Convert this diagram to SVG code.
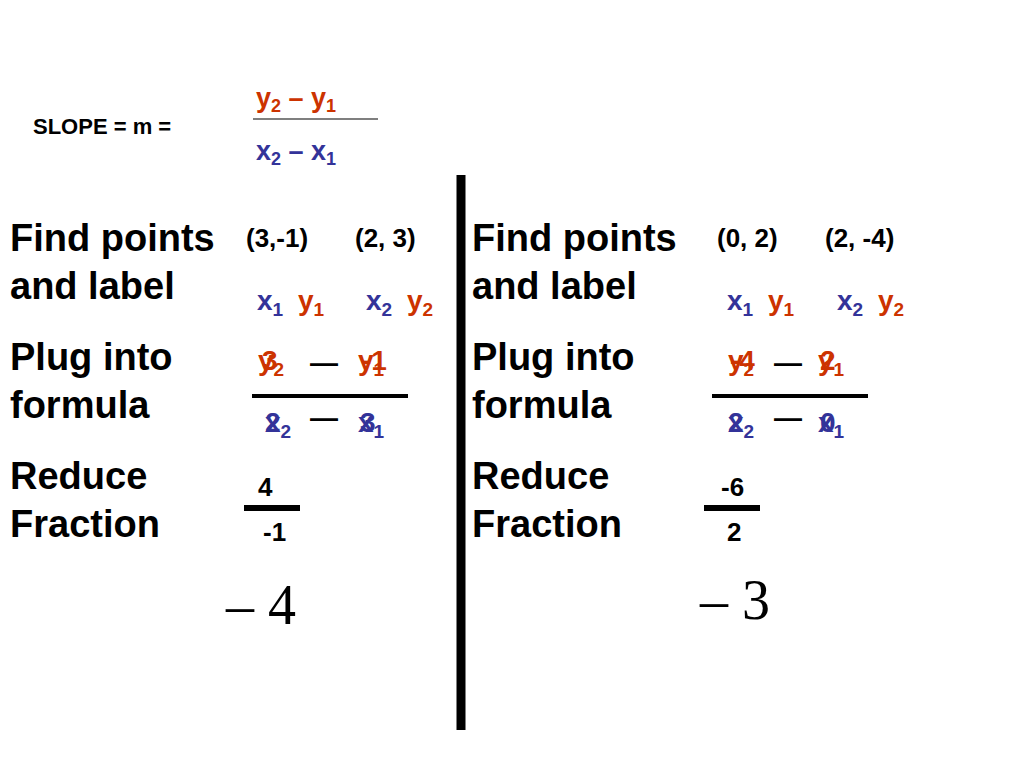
<svg xmlns="http://www.w3.org/2000/svg" width="1024" height="768" viewBox="0 0 1024 768">
<style>
text{font-family:"Liberation Sans",Arial,sans-serif;font-weight:bold}
.big{font-size:38px;fill:#000}
.m{font-size:28px}
.p{font-size:26px}
.r{fill:#cc3300}
.b{fill:#333399}
.k{fill:#000}
.s{font-size:19px}
.f{font-size:26px}
.t{font-family:"Liberation Serif","Times New Roman",serif;font-weight:normal;font-size:56px;fill:#000}
</style>
<rect width="1024" height="768" fill="#fff"/>
<g id="header">
<text x="33" y="134" font-size="22" class="k">SLOPE = m =</text>
<text x="256" y="107" font-size="27" class="r">y<tspan font-size="18" dy="5">2</tspan><tspan dy="-5"> – y</tspan><tspan font-size="18" dy="5">1</tspan></text>
<line x1="253" y1="119" x2="378" y2="119" stroke="#000" stroke-width="1.2"/>
<text x="256" y="160" font-size="27" class="b">x<tspan font-size="18" dy="5">2</tspan><tspan dy="-5"> – x</tspan><tspan font-size="18" dy="5">1</tspan></text>
</g>
<g id="divider"><line x1="461" y1="175" x2="461" y2="730" stroke="#000" stroke-width="9"/></g>
<g id="left">
<text x="10" y="251" class="big">Find points</text>
<text x="10" y="299" class="big">and label</text>
<text x="10" y="370" class="big">Plug into</text>
<text x="10" y="418" class="big">formula</text>
<text x="10" y="489" class="big">Reduce</text>
<text x="10" y="537" class="big">Fraction</text>
<text x="246" y="247" class="p k">(3,-1)</text>
<text x="355" y="247" class="p k">(2, 3)</text>
<text x="257" y="310" class="m b">x<tspan class="s" dy="6">1</tspan></text>
<text x="298" y="310" class="m r">y<tspan class="s" dy="6">1</tspan></text>
<text x="366" y="310" class="m b">x<tspan class="s" dy="6">2</tspan></text>
<text x="407" y="310" class="m r">y<tspan class="s" dy="6">2</tspan></text>
<text x="258" y="370" class="m r">y<tspan class="s" dy="6">2</tspan></text>
<text x="262" y="370" class="m r">3</text>
<text x="358" y="370" class="m r">y<tspan class="s" dy="6">1</tspan></text>
<text x="362" y="370" class="m r">-1</text>
<text x="310" y="372" class="m k">—</text>
<line x1="252" y1="396" x2="408" y2="396" stroke="#000" stroke-width="4"/>
<text x="265" y="432" class="m b">x<tspan class="s" dy="6">2</tspan></text>
<text x="265" y="432" class="m b">2</text>
<text x="310" y="427" class="m k">—</text>
<text x="358" y="432" class="m b">x<tspan class="s" dy="6">1</tspan></text>
<text x="360" y="432" class="m b">3</text>
<text x="258" y="496" class="f k">4</text>
<line x1="244" y1="508" x2="300" y2="508" stroke="#000" stroke-width="6"/>
<text x="263" y="541" class="f k">-1</text>
<text x="226" y="624" class="t">– 4</text>
</g>
<g id="right">
<text x="472" y="251" class="big">Find points</text>
<text x="472" y="299" class="big">and label</text>
<text x="472" y="370" class="big">Plug into</text>
<text x="472" y="418" class="big">formula</text>
<text x="472" y="489" class="big">Reduce</text>
<text x="472" y="537" class="big">Fraction</text>
<text x="717" y="247" class="p k">(0, 2)</text>
<text x="825" y="247" class="p k">(2, -4)</text>
<text x="727" y="310" class="m b">x<tspan class="s" dy="6">1</tspan></text>
<text x="768" y="310" class="m r">y<tspan class="s" dy="6">1</tspan></text>
<text x="837" y="310" class="m b">x<tspan class="s" dy="6">2</tspan></text>
<text x="878" y="310" class="m r">y<tspan class="s" dy="6">2</tspan></text>
<text x="728" y="370" class="m r">y<tspan class="s" dy="6">2</tspan></text>
<text x="730" y="370" class="m r">-4</text>
<text x="774" y="372" class="m k">—</text>
<text x="818" y="370" class="m r">y<tspan class="s" dy="6">1</tspan></text>
<text x="820" y="370" class="m r">2</text>
<line x1="712" y1="396" x2="868" y2="396" stroke="#000" stroke-width="4"/>
<text x="728" y="432" class="m b">x<tspan class="s" dy="6">2</tspan></text>
<text x="728" y="432" class="m b">2</text>
<text x="774" y="427" class="m k">—</text>
<text x="818" y="432" class="m b">x<tspan class="s" dy="6">1</tspan></text>
<text x="820" y="432" class="m b">0</text>
<text x="721" y="496" class="f k">-6</text>
<line x1="704" y1="508" x2="760" y2="508" stroke="#000" stroke-width="6"/>
<text x="727" y="541" class="f k">2</text>
<text x="700" y="619" class="t">– 3</text>
</g>
</svg>
